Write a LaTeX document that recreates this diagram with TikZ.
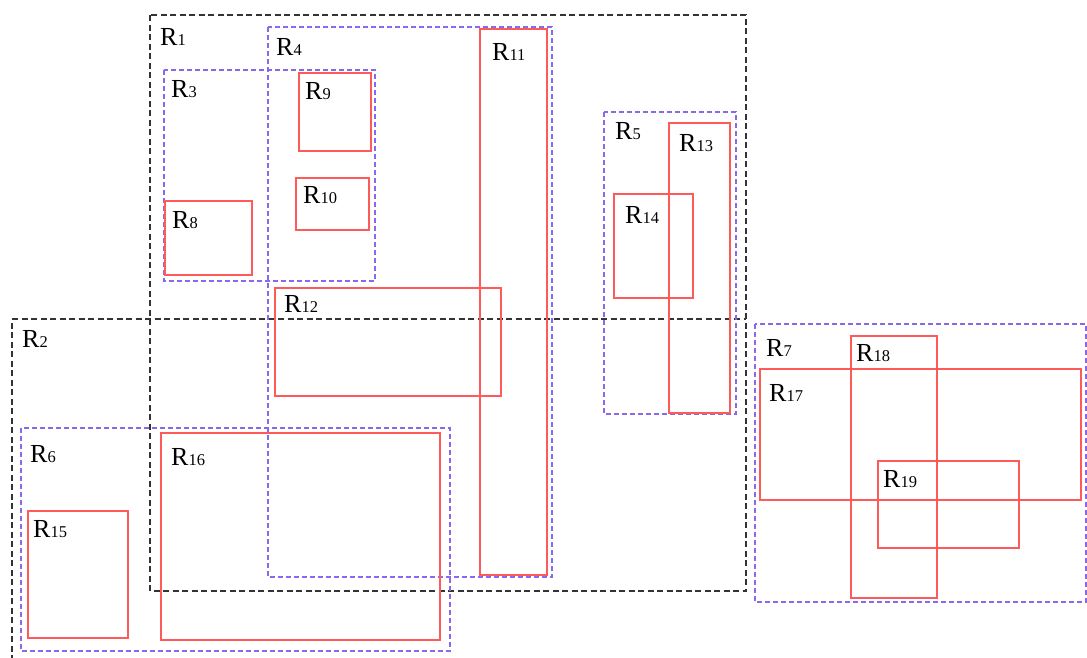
\documentclass[tikz,border=0pt]{standalone}
\usepackage{fontspec}
\setmainfont{Liberation Serif}
\newcommand\rlab[1]{\fontsize{26}{26}\selectfont R{\fontsize{16.5}{16.5}\selectfont #1}}
\begin{document}
\begin{tikzpicture}[x=1pt,y=-1pt,
  blk/.style={draw=black!80,line width=1.2pt,dash pattern=on 6pt off 3.5pt},
  blu/.style={draw={rgb,255:red,138;green,104;blue,238},line width=1.4pt,dash pattern=on 5pt off 3pt},
  red/.style={draw={rgb,255:red,255;green,90;blue,90},line width=1.3pt},
  lbl/.style={anchor=base west,inner sep=0pt}]
\useasboundingbox (0,0) rectangle (1087,657);
\clip (0,0) rectangle (1087,657);
% black dashed
\draw[blk] (150,15) rectangle (746,591);
\draw[blk] (12,680) -- (12,319) -- (746,319);
% blue dashed
\draw[blu] (164,70) rectangle (375,281);
\draw[blu] (268,27) rectangle (552,577);
\draw[blu] (604,112) rectangle (736,414);
\draw[blu] (21,428) rectangle (450,651);
\draw[blu] (755,324) rectangle (1086,602);
% red
\draw[red] (165,201) rectangle (252,275);
\draw[red] (299,73) rectangle (371,151);
\draw[red] (296,178) rectangle (369,230);
\draw[red] (480,29) rectangle (547,575);
\draw[red] (275,288) rectangle (501,396);
\draw[red] (669,123) rectangle (730,413);
\draw[red] (614,194) rectangle (693,298);
\draw[red] (28,511) rectangle (128,638);
\draw[red] (161,433) rectangle (440,640);
\draw[red] (760,369) rectangle (1081,500);
\draw[red] (851,336) rectangle (937,598);
\draw[red] (878,461) rectangle (1019,548);
% labels
\node[lbl] (l1) at (160,45) {\rlab{1}};
\node[lbl] (l2) at (22,347) {\rlab{2}};
\node[lbl] (l3) at (171,97) {\rlab{3}};
\node[lbl] (l4) at (276,55) {\rlab{4}};
\node[lbl] (l5) at (615,139) {\rlab{5}};
\node[lbl] (l6) at (30,462) {\rlab{6}};
\node[lbl] (l7) at (766,356) {\rlab{7}};
\node[lbl] (l8) at (172,228) {\rlab{8}};
\node[lbl] (l9) at (305,99) {\rlab{9}};
\node[lbl] (l10) at (303,203) {\rlab{10}};
\node[lbl] (l11) at (492,60) {\rlab{11}};
\node[lbl] (l12) at (284,312) {\rlab{12}};
\node[lbl] (l13) at (679,151) {\rlab{13}};
\node[lbl] (l14) at (625,223) {\rlab{14}};
\node[lbl] (l15) at (33,537) {\rlab{15}};
\node[lbl] (l16) at (171,465) {\rlab{16}};
\node[lbl] (l17) at (769,401) {\rlab{17}};
\node[lbl] (l18) at (856,361) {\rlab{18}};
\node[lbl] (l19) at (883,487) {\rlab{19}};
\end{tikzpicture}
\end{document}
